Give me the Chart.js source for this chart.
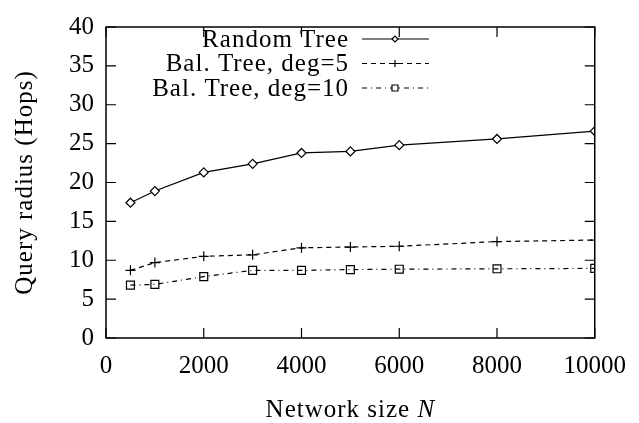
<!DOCTYPE html>
<html>
<head>
<meta charset="utf-8">
<script src="https://cdn.jsdelivr.net/npm/chart.js@4/dist/chart.umd.min.js"></script>
<style>
  html, body { margin: 0; padding: 0; background: #fff; }
  #wrap { width: 639px; height: 423px; }
</style>
</head>
<body>
<div id="wrap"><canvas id="radius"></canvas></div>
<script>
// network sizes on the x axis
const networkSizes = [500, 1000, 2000, 3000, 4000, 5000, 6000, 8000, 10000];
// query radius in hops
const randomTree = [17.4, 18.9, 21.3, 22.4, 23.8, 24.0, 24.8, 25.6, 26.6];
const balTree5 = [8.7, 9.7, 10.5, 10.7, 11.6, 11.7, 11.8, 12.4, 12.6];
const balTree10 = [6.8, 6.9, 7.9, 8.7, 8.7, 8.8, 8.85, 8.9, 8.95];
const seriesNames = ['Random Tree', 'Bal. Tree, deg=5', 'Bal. Tree, deg=10'];

const FONT = '"Liberation Serif", "Times New Roman", serif';
const FSIZE = 25;   // tick numbers
const WSIZE = 25;   // words (titles, key)
const WSPACE = 1;   // widen words a bit, the original font is a wide serif

function pts(vals) {
    return networkSizes.map((n, i) => ({ x: n, y: vals[i] }));
}

// draws a gnuplot style marker
function marker(ctx, style, x, y, r) {
    ctx.save();
    ctx.setLineDash([]);
    ctx.strokeStyle = '#000';
    ctx.lineWidth = 1.2;
    ctx.beginPath();
    if (style === 'rectRot') {
        ctx.moveTo(x - r, y); ctx.lineTo(x, y - r);
        ctx.lineTo(x + r, y); ctx.lineTo(x, y + r);
        ctx.closePath();
        ctx.fillStyle = '#fff';
        ctx.fill();
    } else if (style === 'cross') {
        ctx.moveTo(x - r, y); ctx.lineTo(x + r, y);
        ctx.moveTo(x, y - r); ctx.lineTo(x, y + r);
    } else {
        ctx.rect(x - r, y - r, 2 * r, 2 * r);
        ctx.fillStyle = '#fff';
        ctx.fill();
    }
    ctx.stroke();
    ctx.restore();
}

const framePlugin = {
    id: 'frame',
    afterDraw(chart) {
        const ctx = chart.ctx;
        const xs = chart.scales.x, ys = chart.scales.y;
        const L = xs.getPixelForValue(xs.min), R = xs.getPixelForValue(xs.max);
        const T = ys.getPixelForValue(ys.max), B = ys.getPixelForValue(ys.min);
        ctx.save();
        ctx.setLineDash([]);
        ctx.globalAlpha = 1;
        ctx.strokeStyle = '#000000';
        ctx.lineWidth = 1.5;
        ctx.beginPath();
        ctx.moveTo(L, T); ctx.lineTo(R, T); ctx.lineTo(R, B); ctx.lineTo(L, B);
        ctx.closePath();
        ctx.stroke();

        // inward ticks on all four sides
        const tl = 10;
        ctx.lineWidth = 1.2;
        ctx.beginPath();
        xs.ticks.forEach(t => {
            const px = xs.getPixelForValue(t.value);
            ctx.moveTo(px, B); ctx.lineTo(px, B - tl);
            ctx.moveTo(px, T); ctx.lineTo(px, T + tl);
        });
        ys.ticks.forEach(t => {
            const py = ys.getPixelForValue(t.value);
            ctx.moveTo(L, py); ctx.lineTo(L + tl, py);
            ctx.moveTo(R, py); ctx.lineTo(R - tl, py);
        });
        ctx.stroke();

        // axis titles
        ctx.fillStyle = '#000';
        ctx.letterSpacing = WSPACE + 'px';
        ctx.font = WSIZE + 'px ' + FONT;
        ctx.textBaseline = 'alphabetic';
        ctx.textAlign = 'center';
        ctx.save();
        ctx.translate(31.5, (T + B) / 2);
        ctx.rotate(-Math.PI / 2);
        ctx.fillText('Query radius (Hops)', 0, 0);
        ctx.restore();

        const part1 = 'Network size ';
        ctx.font = WSIZE + 'px ' + FONT;
        const w1 = ctx.measureText(part1).width;
        ctx.font = 'italic ' + WSIZE + 'px ' + FONT;
        const w2 = ctx.measureText('N').width;
        const x0 = (L + R) / 2 - (w1 + w2) / 2;
        ctx.textAlign = 'left';
        ctx.font = WSIZE + 'px ' + FONT;
        ctx.fillText(part1, x0, 416.5);
        ctx.font = 'italic ' + WSIZE + 'px ' + FONT;
        ctx.fillText('N', x0 + w1, 416.5);

        // key, text on the left of the sample like gnuplot
        chart.data.datasets.forEach((ds, i) => {
            const base = 46.5 + i * 24.5;
            const y = base - 7.5;
            ctx.font = WSIZE + 'px ' + FONT;
            ctx.textAlign = 'right';
            ctx.textBaseline = 'alphabetic';
            ctx.fillText(ds.label, 348 + WSPACE, base);
            ctx.beginPath();
            ctx.setLineDash(ds.borderDash || []);
            ctx.lineWidth = 1.2;
            ctx.moveTo(362, y); ctx.lineTo(429, y);
            ctx.stroke();
            ctx.setLineDash([]);
            marker(ctx, ds.pointStyle, 395, y, ds.pointStyle === 'cross' ? 3.5 : 3);
        });
        ctx.letterSpacing = '0px';
        ctx.restore();
    }
};

const tickFont = { family: FONT, size: FSIZE };

new Chart(document.getElementById('radius'), {
    type: 'line',
    data: {
        datasets: [{
            label: seriesNames[0],
            data: pts(randomTree),
            borderColor: '#000',
            borderWidth: 1.2,
            pointStyle: 'rectRot',
            pointRadius: 4.5,
            pointBorderWidth: 1.2,
            pointBorderColor: '#000',
            pointBackgroundColor: '#fff'
        }, {
            label: seriesNames[1],
            data: pts(balTree5),
            borderColor: '#000',
            borderWidth: 1.2,
            borderDash: [5, 4],
            pointStyle: 'cross',
            pointRadius: 5,
            pointBorderWidth: 1.2,
            pointBorderColor: '#000'
        }, {
            label: seriesNames[2],
            data: pts(balTree10),
            borderColor: '#000',
            borderWidth: 1.2,
            borderDash: [5, 4, 1, 4],
            pointStyle: 'rect',
            pointRadius: 5.6,
            pointBorderWidth: 1.2,
            pointBorderColor: '#000',
            pointBackgroundColor: 'rgba(255,255,255,0)'
        }]
    },
    options: {
        responsive: true,
        maintainAspectRatio: false,
        animation: false,
        layout: { padding: { left: 0, top: 11, right: 44, bottom: 0 } },
        plugins: {
            legend: { display: false },
            tooltip: { enabled: false }
        },
        scales: {
            x: {
                type: 'linear',
                min: 0,
                max: 10000,
                ticks: { stepSize: 2000, padding: 13, color: '#000', font: tickFont, maxRotation: 0,
                         callback: v => String(v) },
                grid: { display: false, drawTicks: false },
                border: { display: false },
                afterFit: s => { s.height = 85; }
            },
            y: {
                min: 0,
                max: 40,
                ticks: { stepSize: 5, padding: 12, color: '#000', font: tickFont },
                grid: { display: false, drawTicks: false },
                border: { display: false },
                afterFit: s => { s.width = 106; }
            }
        }
    },
    plugins: [framePlugin]
});
</script>
</body>
</html>
